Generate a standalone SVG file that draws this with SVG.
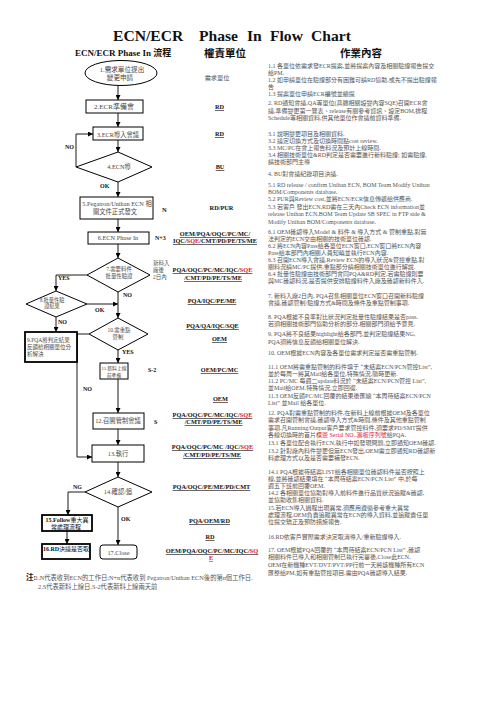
<svg xmlns="http://www.w3.org/2000/svg" width="496" height="702" viewBox="0 0 496 702">
<defs>
<style>
.ti{font-family:"Liberation Serif",serif;font-size:15.6px;font-weight:bold;fill:#111}
.hd{font-family:"Liberation Serif","Noto Sans CJK TC",serif;font-weight:bold;fill:#111}
.ct{font-family:"Liberation Serif","Noto Sans CJK TC",serif;font-size:6px;fill:#555}
.fl{font-family:"Liberation Serif","Noto Sans CJK TC",serif;font-size:6.3px;fill:#484848;text-anchor:middle}
.un{font-family:"Liberation Serif","Noto Sans CJK TC",serif;font-size:6.3px;font-weight:bold;fill:#111;text-anchor:middle;text-decoration:underline}
.nu{text-decoration:none}
.rq{font-family:"Liberation Serif","Noto Sans CJK TC",serif;font-size:6.2px;fill:#555;text-anchor:middle}
.lb{font-family:"Liberation Serif",serif;font-size:6px;font-weight:bold;fill:#111}
.sm{font-family:"Liberation Serif","Noto Sans CJK TC",serif;font-size:5.5px;fill:#555}
.box{fill:#fff;stroke:#000;stroke-width:1}
.thick{stroke-width:1.8}
.con{fill:none;stroke:#000;stroke-width:0.9}
.red{fill:#e0202a}
</style>
<marker id="ar" markerWidth="5" markerHeight="5" refX="5" refY="2.5" orient="auto" markerUnits="userSpaceOnUse">
<path d="M0,0 L5,2.5 L0,5 z" fill="#000"/>
</marker>
</defs>
<rect width="496" height="702" fill="#fff"/>

<g id="title">
<text class="ti" x="113" y="41">ECN/ECR</text>
<text class="ti" x="199" y="41">Phase</text>
<text class="ti" x="247" y="41">In</text>
<text class="ti" x="270" y="41">Flow</text>
<text class="ti" x="311" y="41">Chart</text>
<text class="hd" x="75" y="56" style="font-size:9px">ECN/ECR Phase In 流程</text>
<text class="hd" x="204" y="57" style="font-size:10.5px">權責單位</text>
<text class="hd" x="340" y="57" style="font-size:10.5px">作業內容</text>
</g>

<g id="connectors">
<path class="con" marker-end="url(#ar)" d="M118,85.5 V100"/>
<path class="con" marker-end="url(#ar)" d="M118,113 V127"/>
<path class="con" marker-end="url(#ar)" d="M118,140 V152"/>
<path class="con" marker-end="url(#ar)" d="M76,167 V134 H93"/>
<path class="con" marker-end="url(#ar)" d="M118,182 V197"/>
<path class="con" marker-end="url(#ar)" d="M118,219 V232"/>
<path class="con" marker-end="url(#ar)" d="M118,244 V258"/>
<path class="con" marker-end="url(#ar)" d="M87,275 H56 V291"/>
<path class="con" marker-end="url(#ar)" d="M118,292 V318"/>
<path class="con" marker-end="url(#ar)" d="M87,304 H118"/>
<path class="con" marker-end="url(#ar)" d="M56,317 V332"/>
<path class="con" marker-end="url(#ar)" d="M89,334 H77 V457 H92"/>
<path class="con" marker-end="url(#ar)" d="M118,350 V363"/>
<path class="con" marker-end="url(#ar)" d="M118,379 V413"/>
<path class="con" marker-end="url(#ar)" d="M118,429 V445"/>
<path class="con" marker-end="url(#ar)" d="M118,462 V477"/>
<path class="con" marker-end="url(#ar)" d="M85,492 H68 V515"/>
<path class="con" marker-end="url(#ar)" d="M67,531 V544"/>
<path class="con" marker-end="url(#ar)" d="M118,507 V545"/>
<text class="lb" x="65" y="149">NO</text>
<text class="lb" x="100" y="188">OK</text>
<text class="lb" x="162" y="211.5" style="font-size:6.5px">N</text>
<text class="lb" x="155" y="240">N+3</text>
<text class="sm" x="153" y="265">新料入</text>
<text class="sm" x="153" y="272">廠後</text>
<text class="sm" x="153" y="279">2日內</text>
<text class="lb" x="58" y="280">YES</text>
<text class="lb" x="123" y="297">NO</text>
<text class="lb" x="95" y="312">OK</text>
<text class="lb" x="58" y="324">NO</text>
<text class="lb" x="122" y="354">YES</text>
<text class="lb" x="83" y="391">NO</text>
<text class="lb" x="148" y="372">S-2</text>
<text class="lb" x="154" y="424">S</text>
<text class="lb" x="73" y="489">NG</text>
<text class="lb" x="121" y="520.5">OK</text>
</g>

<g id="n1"><ellipse class="box" cx="121" cy="73" rx="36" ry="12.5"/>
<text class="fl" x="122" y="71.5" style="font-size:6.6px">1.需求單位提出</text>
<text class="fl" x="120" y="79.5" style="font-size:6.6px">變更申請</text></g>
<g id="n2"><rect class="box" x="86" y="100" width="57" height="13"/>
<text class="fl" x="114" y="109" style="font-size:7px">2.ECR準備會</text></g>
<g id="n3"><rect class="box" x="93" y="127" width="50" height="13"/>
<text class="fl" x="118" y="136.5">3.ECR導入會議</text></g>
<g id="n4"><polygon class="box" points="118,152 152,167 118,182 76,167"/>
<text class="fl" x="119" y="169">4.ECN導</text></g>
<g id="n5"><rect class="box" x="80" y="197" width="73" height="22"/>
<text class="fl" x="117" y="205.5">5.Pegatron/Unihan ECN 相</text>
<text class="fl" x="115" y="214">關文件正式發文</text></g>
<g id="n6"><rect class="box" x="88" y="232" width="61" height="12"/>
<text class="fl" x="118" y="240">6.ECN Phase In</text></g>
<g id="n7"><polygon class="box" points="118,258 150,275 118,292 87,275"/>
<text class="fl" x="119" y="271" style="font-size:5.4px">7.需要料件</text>
<text class="fl" x="119" y="277.5" style="font-size:5.4px">批量性驗證</text></g>
<g id="n8"><polygon class="box" points="56,291 87,304 56,317 26,304"/>
<text class="fl" x="52" y="301.5" style="font-size:5.2px">8.批量性驗</text>
<text class="fl" x="52" y="308" style="font-size:5.2px">證結果</text></g>
<g id="n9"><rect class="box thick" x="25" y="332" width="52" height="30"/>
<text class="fl" x="27" y="341.5" style="font-size:5.5px;text-anchor:start">9.PQA將判定結果</text>
<text class="fl" x="27" y="349" style="font-size:5.5px;text-anchor:start">反饋給相關單位分</text>
<text class="fl" x="27" y="356" style="font-size:5.5px;text-anchor:start">析解決</text></g>
<g id="n10"><polygon class="box" points="118,318 148,334 118,350 89,334"/>
<text class="fl" x="119" y="331.5" style="font-size:5.4px">10.需重點</text>
<text class="fl" x="118" y="338.5" style="font-size:5.4px">管制</text></g>
<g id="n11"><rect class="box" x="100" y="363" width="28" height="16"/>
<text class="fl" x="114" y="369.5" style="font-size:4.8px">11.新料上線</text>
<text class="fl" x="114" y="376.5" style="font-size:4.8px">前準備</text></g>
<g id="n12"><rect class="box" x="93" y="413" width="51" height="16"/>
<text class="fl" x="118" y="423">12.召開管制會議</text></g>
<g id="n13"><rect class="box" x="92" y="445" width="52" height="17"/>
<text class="fl" x="118" y="455.5">13.執行</text></g>
<g id="n14"><polygon class="box" points="118,477 152,492 118,507 85,492"/>
<text class="fl" x="118" y="494">14.確認/追</text></g>
<g id="n15"><rect class="box thick" x="42" y="515" width="50" height="16"/>
<text class="fl" x="67" y="521.8" style="fill:#111;font-size:6px"><tspan font-weight="bold">15.Follow</tspan>重大異</text>
<text class="fl" x="66" y="529" style="fill:#111;font-size:6px">常處理流程</text></g>
<g id="n16"><rect class="box thick" x="42" y="544" width="48" height="15"/>
<text class="fl" x="66" y="551" style="fill:#111;font-size:6px"><tspan font-weight="bold">16.RD</tspan>決議是否取</text></g>
<g id="n17"><rect class="box" x="100" y="545" width="37" height="14" rx="3"/>
<text class="fl" x="118.5" y="554.5">17.Close</text></g>

<g id="units">
<text class="rq" x="217" y="80">需求單位</text>
<text class="un" x="219.5" y="109">RD</text>
<text class="un" x="219.5" y="136">RD</text>
<text class="un" x="220" y="169">BU</text>
<text class="un nu" x="221.5" y="210">RD/PUR</text>
<text class="un" x="215" y="236">OEM/PQA/OQC/PC/MC/</text>
<text class="un" x="215" y="243">IQC/<tspan class="red">SQE</tspan>/CMT/PD/PE/TS/ME</text>
<text class="un" x="212.5" y="272">PQA/OQC/PC/MC/IQC/<tspan class="red">SQE</tspan></text>
<text class="un" x="213" y="280">/CMT/PD/PE/TS/ME</text>
<text class="un" x="212" y="303">PQA/IQC/PE/ME</text>
<text class="un" x="212.5" y="328">PQA/QA/IQC/SQE</text>
<text class="un" x="219.5" y="341">OEM</text>
<text class="un" x="219.5" y="372">OEM/PC/MC</text>
<text class="un" x="220.5" y="401">OEM</text>
<text class="un" x="212.5" y="417">PQA/OQC/PC/MC/IQC/<tspan class="red">SQE</tspan></text>
<text class="un" x="213.5" y="424">/CMT/PD/PE/TS/ME</text>
<text class="un" x="212.5" y="449">PQA/OQC/PC/MC /IQC/<tspan class="red">SQE</tspan></text>
<text class="un" x="212" y="457">/CMT/PD/PE/TS/ME</text>
<text class="un" x="211.5" y="489">PQA/OQC/PE/ME/PD/CMT</text>
<text class="un" x="209.5" y="523">PQA/OEM/RD</text>
<text class="un" x="210" y="539">RD</text>
<text class="un" x="212" y="553">OEM/PQA/OQC/PC/MC/IQC/<tspan class="red">SQ</tspan></text>
<text class="un red" x="211" y="560">E</text>
</g>

<g id="content">
<text class="ct" x="268" y="68">1.1 各單位依需求發ECR提案,並將提案內容及相關驗證報告提交</text>
<text class="ct" x="268" y="75">給PM.</text>
<text class="ct" x="268" y="82">1.2 如申請單位在驗證部分有困難可請RD協助,或先不提出驗證報</text>
<text class="ct" x="268" y="89">告</text>
<text class="ct" x="268" y="95.5">1.3 提案單位申請ECR編號並續提</text>
<text class="ct" x="268" y="105">2. RD通知會議,QA等單位(具體相關設變內容SQE)召開ECR會</text>
<text class="ct" x="268" y="113">議,準備變更第一覽表、release有關參考資訊、設定BOM,排程</text>
<text class="ct" x="268" y="120">Schedule等相關資料,供其他單位作會議前資料準備.</text>
<text class="ct" x="268" y="136">3.1 說明變更項目及相關資料.</text>
<text class="ct" x="268" y="143">3.2 議定切換方式及切換時間點cost review.</text>
<text class="ct" x="268" y="150">3.3 MC/PC在會上報告料況及預計上線時間.</text>
<text class="ct" x="268" y="157">3.4 相關技術單位&amp;RD判定是否需要進行新料驗證; 如需驗證,</text>
<text class="ct" x="268" y="164">請技術部門主導</text>
<text class="ct" x="268" y="175.5">4. BU對會議紀錄項目決議.</text>
<text class="ct" x="268" y="187">5.1 RD release / confirm Unihan ECN, BOM Team Modify Unihan</text>
<text class="ct" x="268" y="193.5">BOM/Components database.</text>
<text class="ct" x="268" y="201">5.2 PUR與Review cost,並將ECN/ECR信息傳遞給供應商.</text>
<text class="ct" x="268" y="209">5.3 若客戶 發出ECN,RD需在三天內Check ECN information並</text>
<text class="ct" x="268" y="216">release Unihan ECN,BOM Team Update SB SPEC in FTP side &amp;</text>
<text class="ct" x="268" y="224">Modify Unihan BOM/Components database.</text>
<text class="ct" x="268" y="234">6.1 OEM確認導入Model &amp; 料件 &amp; 導入方式 &amp; 管制重點,對無</text>
<text class="ct" x="268" y="240.5">法判定的ECN交由相關的技術單位確認.</text>
<text class="ct" x="268" y="248">6.2 將ECN內容Pass給各單位ECN窗口,ECN窗口將ECN內容</text>
<text class="ct" x="268" y="255">Pass給本部門內相關人員知曉並執行ECN內容.</text>
<text class="ct" x="268" y="262">6.3 召開ECN導入會議,Review ECN的導入狀況&amp;管控重點,對</text>
<text class="ct" x="268" y="269">關料況請MC/PC提供,重點部分請相關技術單位進行解說.</text>
<text class="ct" x="268" y="276">6.4 批量性驗證由技術部門會同PQA&amp;RD判定,若需驗證則要</text>
<text class="ct" x="268" y="283">與MC確認料況,是否提供安排驗證料件入廠及確認新料件入.</text>
<text class="ct" x="268" y="298">7. 新料入廠2日內, PQA召集相關單位ECN窗口召開新料驗證</text>
<text class="ct" x="268" y="304.5">會議,確認管制/驗證方式&amp;時間及條件及重點管制事項.</text>
<text class="ct" x="268" y="319">8. PQA根據不良率對比狀況判定批量性驗證結果是否pass.</text>
<text class="ct" x="268" y="326">若須相關技術部門協助分析的部分,相關部門須給予意見.</text>
<text class="ct" x="268" y="336">9. PQA將不良結果highlight給各部門,並判定驗證結果NG,</text>
<text class="ct" x="268" y="344">PQA須將信息反饋給相關單位解決.</text>
<text class="ct" x="268" y="355">10. OEM根據ECN內容及各單位需求判定是否需重點管制.</text>
<text class="ct" x="268" y="369">11.1 OEM將需重點管制的料件填于 “未結案ECN/PCN管控List”,</text>
<text class="ct" x="268" y="375.5">並於每周一將其Mail給各單位,特殊情況,隨時更新.</text>
<text class="ct" x="268" y="383">11.2 PC/MC 每週二update料況於 “未結案ECN/PCN管控 List”,</text>
<text class="ct" x="268" y="390">並Mail給OEM.特殊情況,立即回復.</text>
<text class="ct" x="268" y="398">11.3 OEM反饋PC/MC回覆的結果後匯總 “本周待結案ECN/PCN</text>
<text class="ct" x="268" y="405">List” 並Mail 給各單位.</text>
<text class="ct" x="268" y="415">12. PQA對需重點管制的料件,在新料上線前根據OEM及各單位</text>
<text class="ct" x="268" y="422">需求召開管制會議,確認導入方式&amp;時間,條件及其他重點管制</text>
<text class="ct" x="268" y="430">事項.凡Running/Output客戶要求管控料件,須要求PD/SMT提供</text>
<text class="ct" x="268" y="437">各線切換時的首片<tspan class="red">標簽 Serial NO.,籌板序列號</tspan>給PQA.</text>
<text class="ct" x="268" y="445">13.1 各單位配合執行ECN,執行中如發現問題,立即通知OEM確認.</text>
<text class="ct" x="268" y="453">13.2 針對廠內料件變更但無ECN發出,OEM需立即通知RD確認新</text>
<text class="ct" x="268" y="460">料處理方式以及是否需要補發ECN.</text>
<text class="ct" x="268" y="474">14.1 PQA根據待結案LIST給各相關單位確認料件是否按照上</text>
<text class="ct" x="268" y="481">線,並將確認結果填在 “本周待結案ECN/PCN List” 中,於每</text>
<text class="ct" x="268" y="488">週五下班前回覆OEM.</text>
<text class="ct" x="268" y="495">14.2 各相關單位協助對導入前料件進行品質狀況追蹤&amp;確認,</text>
<text class="ct" x="268" y="502">並協助收集相關資料.</text>
<text class="ct" x="268" y="510">15.若ECN導入過程出現異常,須應用遵循參考重大異常</text>
<text class="ct" x="268" y="517">處理流程,OEM負責追蹤異常在ECN的導入資料,並追蹤責任單</text>
<text class="ct" x="268" y="524">位提交矯正及預防措施報告.</text>
<text class="ct" x="268" y="539">16.RD依客戶實際需求決定取消導入/重新驗證導入.</text>
<text class="ct" x="268" y="552">17. OEM根據PQA回覆的 “本周待結案ECN/PCN List” ,確認</text>
<text class="ct" x="268" y="559">相關料件已導入和相關管制已執行完畢後,Close此ECN.</text>
<text class="ct" x="268" y="567">OEM在新機種EVT/DVT/PVT/PP行前一天將該機種所有ECN</text>
<text class="ct" x="268" y="575">匯整給PM,如有重點管控項目,需由PQA確認導入結果.</text>
</g>

<g id="note">
<text class="hd" x="26" y="580" style="font-size:7.5px">注:</text>
<text class="ct" x="35" y="579.5" style="font-size:6.3px">1.N代表收到ECN的工作日;N+n代表收到 Pegatron/Unihan ECN後的第n個工作日.</text>
<text class="ct" x="38" y="588.5" style="font-size:6.3px">2.S代表新料上線日,S-2代表新料上線兩天前</text>
</g>
</svg>
